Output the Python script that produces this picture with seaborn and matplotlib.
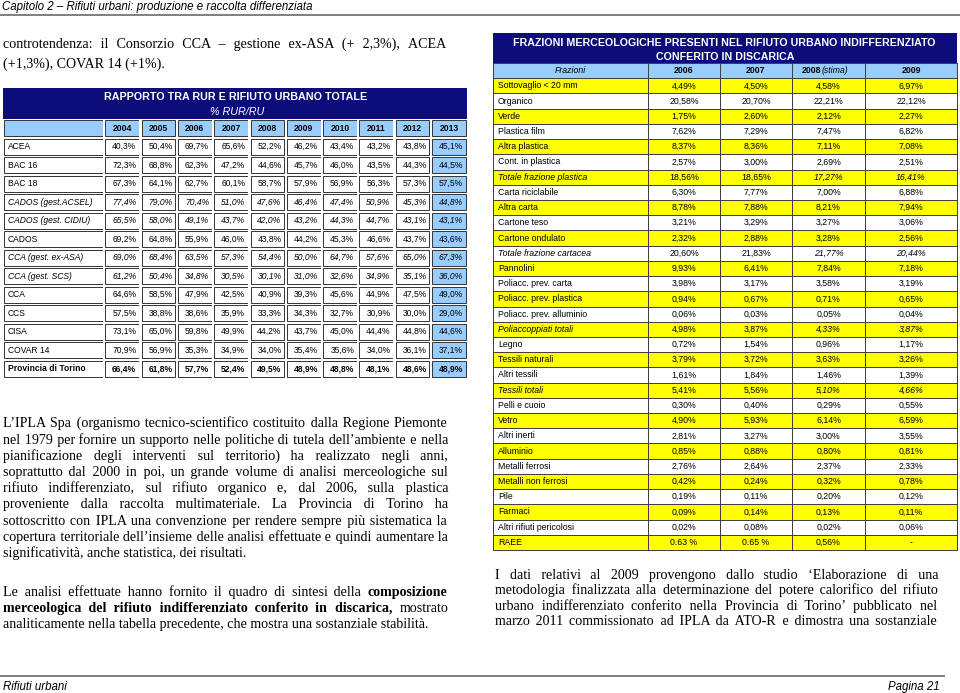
import matplotlib
matplotlib.use('Agg')
import matplotlib.pyplot as plt
from matplotlib import font_manager
from matplotlib.font_manager import FontProperties, findfont
from matplotlib.ft2font import FT2Font
from matplotlib.colors import ListedColormap
from matplotlib.patches import Rectangle
import seaborn as sns
import numpy as np
import pandas as pd

W, H = 960, 693

# ---- tabella 1: rapporto RUR / RU
rur_years = ['2004', '2005', '2006', '2007', '2008', '2009', '2010', '2011', '2012', '2013']
rur_names = ['ACEA', 'BAC 16', 'BAC 18', 'CADOS (gest.ACSEL)', 'CADOS (gest. CIDIU)', 'CADOS',
             'CCA (gest. ex-ASA)', 'CCA (gest. SCS)', 'CCA', 'CCS', 'CISA', 'COVAR 14',
             'Provincia di Torino']
rur_style = ['n', 'n', 'n', 'i', 'i', 'n', 'i', 'i', 'n', 'n', 'n', 'n', 'b']
rur_values = [
    [40.3, 50.4, 69.7, 65.6, 52.2, 46.2, 43.4, 43.2, 43.8, 45.1],
    [72.3, 68.8, 62.3, 47.2, 44.6, 45.7, 46.0, 43.5, 44.3, 44.5],
    [67.3, 64.1, 62.7, 60.1, 58.7, 57.9, 56.9, 56.3, 57.3, 57.5],
    [77.4, 79.0, 70.4, 51.0, 47.6, 46.4, 47.4, 50.9, 45.3, 44.8],
    [65.5, 58.0, 49.1, 43.7, 42.0, 43.2, 44.3, 44.7, 43.1, 43.1],
    [69.2, 64.8, 55.9, 46.0, 43.8, 44.2, 45.3, 46.6, 43.7, 43.6],
    [69.0, 68.4, 63.5, 57.3, 54.4, 50.0, 64.7, 57.6, 65.0, 67.3],
    [61.2, 50.4, 34.8, 30.5, 30.1, 31.0, 32.6, 34.9, 35.1, 36.0],
    [64.6, 58.5, 47.9, 42.5, 40.9, 39.3, 45.6, 44.9, 47.5, 49.0],
    [57.5, 38.8, 38.6, 35.9, 33.3, 34.3, 32.7, 30.9, 30.0, 29.0],
    [73.1, 65.0, 59.8, 49.9, 44.2, 43.7, 45.0, 44.4, 44.8, 44.6],
    [70.9, 56.9, 35.3, 34.9, 34.0, 35.4, 35.6, 34.0, 36.1, 37.1],
    [66.4, 61.8, 57.7, 52.4, 49.5, 48.9, 48.8, 48.1, 48.6, 48.9],
]

# ---- tabella 2: frazioni merceologiche
fr_names = ['Sottovaglio < 20 mm', 'Organico', 'Verde', 'Plastica film', 'Altra plastica',
            'Cont. in plastica', 'Totale frazione plastica', 'Carta riciclabile', 'Altra carta',
            'Cartone teso', 'Cartone ondulato', 'Totale frazione cartacea', 'Pannolini',
            'Poliacc. prev. carta', 'Poliacc. prev. plastica', 'Poliacc. prev. alluminio',
            'Poliaccoppiati totali', 'Legno', 'Tessili naturali', 'Altri tessili', 'Tessili totali',
            'Pelli e cuoio', 'Vetro', 'Altri inerti', 'Alluminio', 'Metalli ferrosi',
            'Metalli non ferrosi', 'Pile', 'Farmaci', 'Altri rifiuti pericolosi', 'RAEE']
fr_totals = [6, 11, 16, 20]
fr_2006 = [4.49, 20.58, 1.75, 7.62, 8.37, 2.57, 18.56, 6.30, 8.78, 3.21, 2.32, 20.60, 9.93, 3.98,
           0.94, 0.06, 4.98, 0.72, 3.79, 1.61, 5.41, 0.30, 4.90, 2.81, 0.85, 2.76, 0.42, 0.19,
           0.09, 0.02, 0.63]
fr_2007 = [4.50, 20.70, 2.60, 7.29, 8.36, 3.00, 18.65, 7.77, 7.88, 3.29, 2.88, 21.83, 6.41, 3.17,
           0.67, 0.03, 3.87, 1.54, 3.72, 1.84, 5.56, 0.40, 5.93, 3.27, 0.88, 2.64, 0.24, 0.11,
           0.14, 0.08, 0.65]
fr_2008 = [4.58, 22.21, 2.12, 7.47, 7.11, 2.69, 17.27, 7.00, 8.21, 3.27, 3.28, 21.77, 7.84, 3.58,
           0.71, 0.05, 4.33, 0.96, 3.63, 1.46, 5.10, 0.29, 6.14, 3.00, 0.80, 2.37, 0.32, 0.20,
           0.13, 0.02, 0.56]
fr_2009 = [6.97, 22.12, 2.27, 6.82, 7.08, 2.51, 16.41, 6.88, 7.94, 3.06, 2.56, 20.44, 7.18, 3.19,
           0.65, 0.04, 3.87, 1.17, 3.26, 1.39, 4.66, 0.55, 6.59, 3.55, 0.81, 2.33, 0.78, 0.12,
           0.11, 0.06, None]
fr_years = ['2006', '2007', '2008', '2009']
raee_labels = ['0.63 %', '0.65 %', '0,56%', '-']

NAVY = '#0c0c7a'
LBLUE = '#99ccff'
YELLOW = '#ffff00'

names = {f.name for f in font_manager.fontManager.ttflist}
NARROW = 'Liberation Sans Narrow' if 'Liberation Sans Narrow' in names else 'Liberation Sans'
SERIF = 'Liberation Serif'

serif_chars = FT2Font(findfont(FontProperties(family=SERIF))).get_charmap()
FINE = next((c for c in ['\u200a', '\u2009', '\u2006', '\u2005'] if ord(c) in serif_chars), ' ')

fig = plt.figure(figsize=(W / 100, H / 100), dpi=100)
fig.patch.set_facecolor('white')
renderer = fig.canvas.get_renderer()


def px_rect(x0, y0, x1, y1):
    return [x0 / W, 1 - y1 / H, (x1 - x0) / W, (y1 - y0) / H]


def text_width(s, **kw):
    t = fig.text(0, 0, s, **kw)
    w = t.get_window_extent(renderer).width
    t.remove()
    return w


def fit_size(s, target, **kw):
    return 10 * target / text_width(s, fontsize=10, **kw)


def fmt_pct(v, nd):
    if v is None:
        return '-'
    return f"{v:.{nd}f}%".replace('.', ',')


def draw_column(x0, x1, y0, y1, codes, labels, colors, fs, ha='center', pad=3,
                spacing=False):
    ax = fig.add_axes(px_rect(x0, y0, x1, y1))
    n = len(codes)
    df = pd.DataFrame({'v': codes})
    annot = np.array(labels, dtype=object).reshape(-1, 1)
    sns.heatmap(df, ax=ax, cmap=ListedColormap(colors), vmin=-0.5, vmax=len(colors) - 0.5,
                cbar=False, annot=annot, fmt='',
                linewidths=2.0 if spacing else 0.7,
                linecolor='white' if spacing else '#404040',
                xticklabels=False, yticklabels=False,
                annot_kws={'fontsize': fs, 'family': NARROW, 'color': 'black'})
    ax.collections[0].set_clip_on(False)
    w_px = x1 - x0
    row_px = (y1 - y0) / n
    for t in ax.texts:
        if ha == 'left':
            t.set_x(pad / w_px)
            t.set_ha('left')
        elif ha == 'right':
            t.set_x(1 - pad / w_px)
            t.set_ha('right')
    if spacing:
        dx = 1.3 / w_px
        dy = 1.3 / row_px
        for i in range(n):
            ax.add_patch(Rectangle((dx, i + dy), 1 - 2 * dx, 1 - 2 * dy, fill=False,
                                   edgecolor='#333333', lw=0.7, clip_on=False))
    return ax


# ---------------- tabella sinistra
fs_t1 = fit_size('CADOS (gest.ACSEL)', 85, family=NARROW, style='italic')
t1_y0, t1_y1 = 119, 378
t1_cols = [3, 104] + [104 + 36.3 * (k + 1) for k in range(10)]

ax = draw_column(t1_cols[0], t1_cols[1], t1_y0, t1_y1, [1] + [0] * len(rur_names),
                 [''] + rur_names, ['white', LBLUE], fs_t1, ha='left', pad=5, spacing=True)
for i, st in enumerate(rur_style):
    if st == 'i':
        ax.texts[i + 1].set_fontstyle('italic')
    elif st == 'b':
        ax.texts[i + 1].set_fontweight('bold')

for k, yr in enumerate(rur_years):
    codes = [1] + [1 if k == 9 else 0] * len(rur_names)
    labels = [yr] + [fmt_pct(row[k], 1) for row in rur_values]
    ax = draw_column(t1_cols[k + 1], t1_cols[k + 2], t1_y0, t1_y1, codes, labels,
                     ['white', LBLUE], fs_t1, ha='right', pad=4, spacing=True)
    ax.texts[0].set_fontweight('bold')
    ax.texts[0].set_ha('center')
    ax.texts[0].set_x(0.5)
    for i, st in enumerate(rur_style):
        if st == 'i':
            ax.texts[i + 1].set_fontstyle('italic')
        elif st == 'b':
            ax.texts[i + 1].set_fontweight('bold')

# ---------------- tabella destra
fs_t2 = fit_size('Sottovaglio < 20 mm', 80, family=NARROW)
t2_y0, t2_y1 = 63, 550
t2_cols = [493, 648, 720, 792, 865, 957]
stripe = [1 if i % 2 == 0 else 0 for i in range(len(fr_names))]
t2_colors = ['white', YELLOW, LBLUE]

ax = draw_column(t2_cols[0], t2_cols[1], t2_y0, t2_y1, [2] + stripe, ['Frazioni'] + fr_names,
                 t2_colors, fs_t2, ha='left', pad=5)
ax.texts[0].set_fontstyle('italic')
ax.texts[0].set_ha('center')
ax.texts[0].set_x(0.5)
for i in fr_totals:
    ax.texts[i + 1].set_fontstyle('italic')

for k, (yr, vals) in enumerate(zip(fr_years, [fr_2006, fr_2007, fr_2008, fr_2009])):
    labels = [fmt_pct(v, 2) for v in vals]
    labels[-1] = raee_labels[k]
    head = '' if yr == '2008' else yr
    ax = draw_column(t2_cols[k + 1], t2_cols[k + 2], t2_y0, t2_y1, [2] + stripe,
                     [head] + labels, t2_colors, fs_t2)
    ax.texts[0].set_fontweight('bold')
    if yr == '2008':
        ax.text(0.14, 0.5, '2008', fontsize=fs_t2, family=NARROW, weight='bold',
                ha='left', va='center')
        ax.text(0.40, 0.5, '(stima)', fontsize=fs_t2, family=NARROW, style='italic',
                ha='left', va='center')
    if k >= 2:
        for i in fr_totals:
            ax.texts[i + 1].set_fontstyle('italic')

# ---------------- testo della pagina
tx = fig.add_axes([0, 0, 1, 1])
tx.set_xlim(0, W)
tx.set_ylim(H, 0)
tx.set_axis_off()
tx.patch.set_alpha(0)

# bande titolo
tx.add_patch(Rectangle((3, 88), 464, 31, color=NAVY, lw=0))
tx.add_patch(Rectangle((493, 33), 464, 30, color=NAVY, lw=0))
fs_h1 = fit_size('RAPPORTO TRA RUR E RIFIUTO URBANO TOTALE', 262, family=NARROW, weight='bold')
tx.text(236, 97, 'RAPPORTO TRA RUR E RIFIUTO URBANO TOTALE', fontsize=fs_h1, family=NARROW,
        weight='bold', color='white', ha='center', va='center')
tx.text(237, 112, '% RUR/RU', fontsize=fs_h1, family=NARROW, style='italic',
        color='white', ha='center', va='center')
fs_h2 = fit_size('FRAZIONI MERCEOLOGICHE PRESENTI NEL RIFIUTO URBANO INDIFFERENZIATO', 418,
                 family=NARROW, weight='bold')
tx.text(724, 43, 'FRAZIONI MERCEOLOGICHE PRESENTI NEL RIFIUTO URBANO INDIFFERENZIATO',
        fontsize=fs_h2, family=NARROW, weight='bold', color='white', ha='center', va='center')
tx.text(725, 57, 'CONFERITO IN DISCARICA', fontsize=fs_h2, family=NARROW, weight='bold',
        color='white', ha='center', va='center')

# intestazione e piè di pagina
fs_run = fit_size('Capitolo 2 – Rifiuti urbani: produzione e raccolta differenziata', 313,
                  family=NARROW, style='italic')
tx.text(2, 7, 'Capitolo 2 – Rifiuti urbani: produzione e raccolta differenziata',
        fontsize=fs_run, family=NARROW, style='italic', ha='left', va='center')
tx.plot([0, 960], [14.5, 14.5], color='#7f7f7f', lw=1.4)
tx.plot([0, 944], [676, 676], color='#7f7f7f', lw=1.4)
tx.text(3, 687, 'Rifiuti urbani', fontsize=fs_run, family=NARROW, style='italic',
        ha='left', va='center')
tx.text(940, 687, 'Pagina 21', fontsize=fs_run, family=NARROW, style='italic',
        ha='right', va='center')

# corpo del testo (giustificato)
fs_body = fit_size('analiticamente nella tabella precedente, che mostra una sostanziale stabilità.',
                   427, family=SERIF)
w_sp = text_width('a a', fontsize=fs_body, family=SERIF) - \
    text_width('aa', fontsize=fs_body, family=SERIF)
w_fine = (text_width('a' + FINE * 10 + 'a', fontsize=fs_body, family=SERIF) -
          text_width('aa', fontsize=fs_body, family=SERIF)) / 10


def parse_line(line):
    words = []
    bold = False
    for w in line.split(' '):
        frags = []
        for k, p in enumerate(w.split('**')):
            if k > 0:
                bold = not bold
            if p:
                frags.append((p, bold))
        words.append(frags)
    return words


def draw_line(x0, x1, yc, line, justify=True):
    words = parse_line(line)
    wid = [[text_width(s, fontsize=fs_body, family=SERIF, weight='bold' if b else 'normal')
            for s, b in frags] for frags in words]
    total = sum(sum(w) for w in wid)
    n = len(words)
    gap = (x1 - x0 - total) / (n - 1) if justify and n > 1 else w_sp
    pieces = []
    x = x0
    carry = 0.0
    for i, frags in enumerate(words):
        if i > 0:
            want = gap + carry
            ns = int(want // w_sp)
            nf = int(round((want - ns * w_sp) / w_fine))
            got = ns * w_sp + nf * w_fine
            carry = want - got
            pieces[-1][2] += ' ' * ns + FINE * nf
            x += got
        for (s, b), w in zip(frags, wid[i]):
            if pieces and pieces[-1][1] == b:
                pieces[-1][2] += s
            else:
                pieces.append([x, b, s])
            x += w
    yb = yc + 0.3 * fs_body * 100 / 72
    for px, b, s in pieces:
        tx.text(px, yb, s, fontsize=fs_body, family=[SERIF, 'DejaVu Serif'],
                weight='bold' if b else 'normal', ha='left', va='baseline')


def paragraph(x0, x1, ys, lines):
    for i, (y, line) in enumerate(zip(ys, lines)):
        draw_line(x0, x1, y, line, justify=i < len(lines) - 1)


paragraph(3, 448, [44, 64], [
    'controtendenza: il Consorzio CCA – gestione ex-ASA (+ 2,3%), ACEA',
    '(+1,3%), COVAR 14 (+1%).',
])
paragraph(3, 448, [423, 440, 456, 472, 488, 504, 521, 537, 553], [
    'L’IPLA Spa (organismo tecnico-scientifico costituito dalla Regione Piemonte',
    'nel 1979 per fornire un supporto nelle politiche di tutela dell’ambiente e nella',
    'pianificazione degli interventi sul territorio) ha realizzato negli anni,',
    'soprattutto dal 2000 in poi, un grande volume di analisi merceologiche sul',
    'rifiuto indifferenziato, sul rifiuto organico e, dal 2006, sulla plastica',
    'proveniente dalla raccolta multimateriale. La Provincia di Torino ha',
    'sottoscritto con IPLA una convenzione per rendere sempre più sistematica la',
    'copertura territoriale dell’insieme delle analisi effettuate e quindi aumentare la',
    'significatività, anche statistica, dei risultati.',
])
paragraph(3, 448, [592, 608, 624], [
    'Le analisi effettuate hanno fornito il quadro di sintesi della **composizione**',
    '**merceologica del rifiuto indifferenziato conferito in discarica,** mostrato',
    'analiticamente nella tabella precedente, che mostra una sostanziale stabilità.',
])
lines_r = [
    'I dati relativi al 2009 provengono dallo studio ‘Elaborazione di una',
    'metodologia finalizzata alla determinazione del potere calorifico del rifiuto',
    'urbano indifferenziato conferito nella Provincia di Torino’ pubblicato nel',
    'marzo 2011 commissionato ad IPLA da ATO-R e dimostra una sostanziale',
]
for y, line in zip([575, 590, 606, 621], lines_r):
    draw_line(495, 938, y, line, justify=True)

fig.savefig('out.png', dpi=100)
